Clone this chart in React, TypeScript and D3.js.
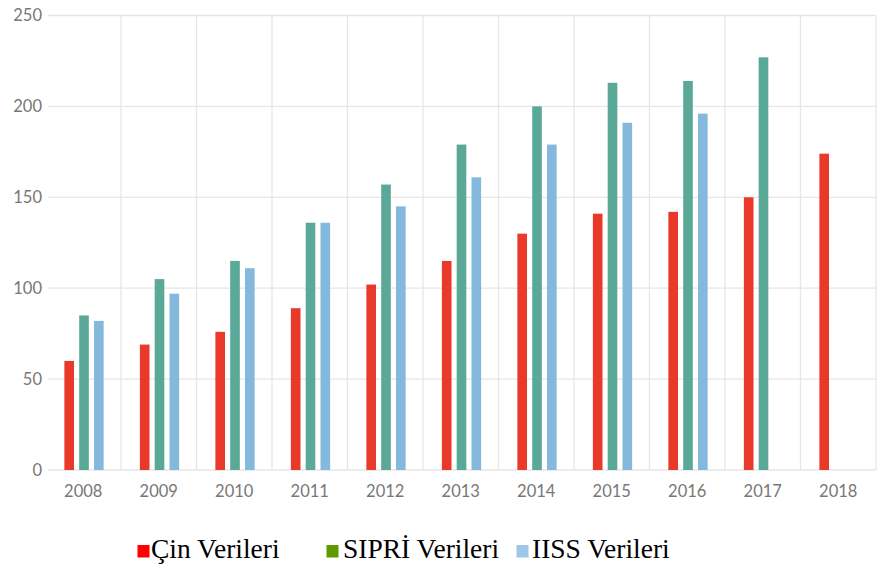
import * as d3 from "d3";
import React, { useEffect, useRef } from "react";

// years on the x axis
const years = ["2008", "2009", "2010", "2011", "2012", "2013", "2014", "2015", "2016", "2017", "2018"];
// values (null = no bar)
const cinValues = [60, 69, 76, 89, 102, 115, 130, 141, 142, 150, 174];
const sipriValues = [85, 105, 115, 136, 157, 179, 200, 213, 214, 227, null];
const iissValues = [82, 97, 111, 136, 145, 161, 179, 191, 196, null, null];
const yTicks = [0, 50, 100, 150, 200, 250];

const seriesNames = ["Çin Verileri", "SIPRİ Verileri", "IISS Verileri"];
const barColors = ["#e8392b", "#5aa897", "#84b8dc"];
const legendColors = ["#ff0000", "#5f9a00", "#9fc5e8"];

const W = 878;
const H = 566;

const App: React.FC = () => {
  const ref = useRef<SVGSVGElement | null>(null);

  useEffect(() => {
    if (!ref.current) return;
    const svg = d3.select(ref.current);
    svg.selectAll("*").remove();

    const left = 45.5;
    const right = 876;
    const x0 = d3.scaleBand().domain(years).range([left, right]).padding(0);
    const x1 = d3
      .scaleBand()
      .domain(seriesNames)
      .range([x0.bandwidth() * 0.25, x0.bandwidth() * 0.77])
      .paddingInner(0.35);
    const y = d3.scaleLinear().domain([0, 250]).range([470, 15.5]);

    // horizontal grid
    svg
      .append("g")
      .selectAll("line")
      .data(yTicks)
      .enter()
      .append("line")
      .attr("x1", 48)
      .attr("x2", right)
      .attr("y1", (d) => y(d))
      .attr("y2", (d) => y(d))
      .attr("stroke", "#e6e6e6")
      .attr("stroke-width", 1.3);

    // vertical grid (band boundaries)
    svg
      .append("g")
      .selectAll("line")
      .data(years)
      .enter()
      .append("line")
      .attr("x1", (d) => x0(d)! + x0.bandwidth())
      .attr("x2", (d) => x0(d)! + x0.bandwidth())
      .attr("y1", y(250))
      .attr("y2", y(0))
      .attr("stroke", "#e6e6e6")
      .attr("stroke-width", 1.3);

    // y labels
    svg
      .append("g")
      .selectAll("text")
      .data(yTicks)
      .enter()
      .append("text")
      .attr("x", 42)
      .attr("y", (d) => y(d))
      .attr("dy", "0.36em")
      .attr("text-anchor", "end")
      .style("font-family", "Lato, sans-serif")
      .style("font-size", "16.5px")
      .attr("fill", "#777")
      .text((d) => d);

    // x labels
    svg
      .append("g")
      .selectAll("text")
      .data(years)
      .enter()
      .append("text")
      .attr("x", (d) => x0(d)! + x0.bandwidth() / 2)
      .attr("y", 497)
      .attr("text-anchor", "middle")
      .style("font-family", "Lato, sans-serif")
      .style("font-size", "16.5px")
      .attr("fill", "#777")
      .text((d) => d);

    // bars
    const allSeries = [cinValues, sipriValues, iissValues];
    allSeries.forEach((vals, si) => {
      const rows = years
        .map((yr, i) => ({ yr, v: vals[i] }))
        .filter((r) => r.v !== null) as { yr: string; v: number }[];
      svg
        .append("g")
        .selectAll("rect")
        .data(rows)
        .enter()
        .append("rect")
        .attr("x", (d) => x0(d.yr)! + x1(seriesNames[si])!)
        .attr("y", (d) => y(d.v))
        .attr("width", x1.bandwidth())
        .attr("height", (d) => y(0) - y(d.v))
        .attr("fill", barColors[si]);
    });

    // legend
    const legendX = [137.5, 326.5, 516.5];
    const textX = [151, 343, 532];
    const lg = svg.append("g");
    seriesNames.forEach((name, i) => {
      lg.append("rect")
        .attr("x", legendX[i])
        .attr("y", 545)
        .attr("width", 12)
        .attr("height", 12.5)
        .attr("fill", legendColors[i]);
      lg.append("text")
        .attr("x", textX[i])
        .attr("y", 557.5)
        .style("font-family", "'Liberation Serif', 'Times New Roman', serif")
        .style("font-size", "27.5px")
        .attr("fill", "#000")
        .text(name);
    });
  }, []);

  return (
    <svg
      ref={ref}
      width={W}
      height={H}
      style={{ position: "absolute", left: 0, top: 0, background: "#fff" }}
    ></svg>
  );
};

export default App;
